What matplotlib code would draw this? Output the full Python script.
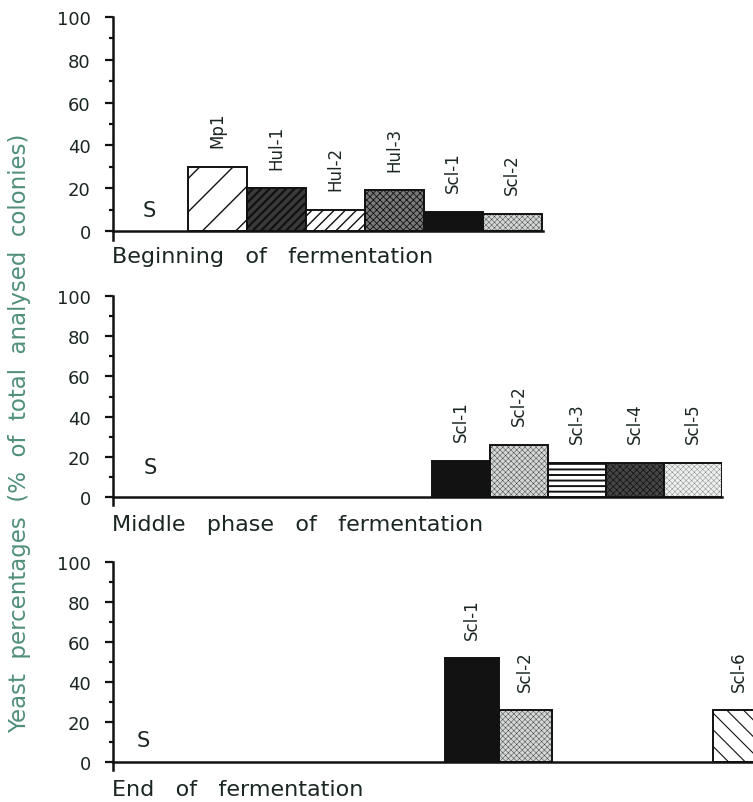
import matplotlib
matplotlib.use("Agg")
import matplotlib.pyplot as plt

# ---------------- data ----------------
strains = ['S', 'Mp1', 'Hul-1', 'Hul-2', 'Hul-3', 'Scl-1', 'Scl-2',
           'Scl-3', 'Scl-4', 'Scl-5', 'Scl-6']
beginning = [0, 30, 20, 10, 19, 9, 8, 0, 0, 0, 0]
middle = [0, 0, 0, 0, 0, 18, 26, 17, 17, 17, 0]
end = [0, 0, 0, 0, 0, 52, 26, 0, 0, 0, 26]
panel_titles = ['Beginning   of   fermentation',
                'Middle   phase   of   fermentation',
                'End   of   fermentation']
yticks = [0, 20, 40, 60, 80, 100]
ylabel = 'Yeast  percentages  (%  of  total  analysed  colonies)'

# ---------------- styles ----------------
styles = {
    'Mp1':   dict(facecolor='white', hatch='/', lw_h=1.0),
    'Hul-1': dict(facecolor='#3a3a3a', hatch='////', lw_h=1.6, hc='white'),
    'Hul-2': dict(facecolor='white', hatch='///', lw_h=1.0),
    'Hul-3': dict(facecolor='#7a7a7a', hatch='xxxxx', lw_h=0.6),
    'Scl-1': dict(facecolor='#121212', hatch=None, lw_h=1.0),
    'Scl-2': dict(facecolor='#d3d7d5', hatch='xxxxxx', lw_h=0.25),
    'Scl-3': dict(facecolor='white', hatch='---', lw_h=1.4),
    'Scl-4': dict(facecolor='#454545', hatch='xxxxx', lw_h=0.5),
    'Scl-5': dict(facecolor='#eef0ef', hatch='xxxxxx', lw_h=0.15),
    'Scl-6': dict(facecolor='white', hatch='\\\\', lw_h=0.8),
}

TXT = '#1b2624'
plt.rcParams['font.family'] = ['DejaVu Sans']
plt.rcParams['hatch.linewidth'] = 1.0

W, H = 753, 803
fig = plt.figure(figsize=(W / 100, H / 100), dpi=100)
fig.patch.set_facecolor('white')

def fx(px):
    return px / W

def fy(py):
    return 1 - py / H

# axes boxes (pixel extents: left, right, y of 100, y of 0) and x-limits
panels = [
    dict(vals=beginning, box=(113, 543, 18, 232), xlim=(-0.77, 6.52),
         s_xy=(-0.16, 10), title_y=257),
    dict(vals=middle, box=(113, 722, 297, 498), xlim=(-1.0, 9.5),
         s_xy=(-0.36, 15), title_y=525),
    dict(vals=end, box=(113, 753, 563, 763), xlim=(-1.706, 10.257),
         s_xy=(-1.14, 11), title_y=790),
]

YMIN = -4
for p, title in zip(panels, panel_titles):
    l, r, ytop, y0 = p['box']
    ppu = (y0 - ytop) / 100.0
    ybot = y0 - YMIN * ppu
    ax = fig.add_axes([fx(l), fy(ybot), fx(r) - fx(l), (ybot - ytop) / H])
    ax.set_xlim(*p['xlim'])
    ax.set_ylim(YMIN, 100)
    ax.patch.set_alpha(0)
    for s in ['top', 'right']:
        ax.spines[s].set_visible(False)
    ax.spines['bottom'].set_position(('data', 0))
    for s in ['left', 'bottom']:
        ax.spines[s].set_linewidth(1.8)
        ax.spines[s].set_color('#111')
    ax.set_xticks([])
    ax.set_yticks(yticks)
    ax.set_yticks(range(10, 100, 20), minor=True)
    ax.tick_params(axis='y', which='major', direction='out', length=6,
                   width=1.6, pad=10, labelsize=13, labelcolor=TXT,
                   color='#111')
    ax.tick_params(axis='y', which='minor', direction='out', length=3,
                   width=1.6, color='#111')
    for i, (name, v) in enumerate(zip(strains, p['vals'])):
        if v <= 0:
            continue
        st = styles[name]
        bars = ax.bar(i, v, width=1.0, facecolor=st['facecolor'],
                      edgecolor='#111', linewidth=1.4, hatch=st['hatch'],
                      zorder=2)
        for b in bars:
            if hasattr(b, 'set_hatch_linewidth'):
                b.set_hatch_linewidth(st['lw_h'])
            if 'hc' in st and hasattr(b, 'set_hatchcolor'):
                b.set_hatchcolor(st['hc'])
        ax.annotate(name, (i, v), xytext=(0, 14), textcoords='offset points',
                    rotation=90, ha='center', va='bottom', fontsize=12,
                    color=TXT, annotation_clip=False)
    ax.text(p['s_xy'][0], p['s_xy'][1], 'S', fontsize=15, color=TXT,
            ha='center', va='center')
    fig.text(fx(112), fy(p['title_y']), title, fontsize=16, color=TXT,
             ha='left', va='center')

fig.text(fx(20), fy(433), ylabel, rotation=90, fontsize=16.5,
         color='#4f8f78', ha='center', va='center')

fig.savefig('out.png', dpi=100, facecolor='white')
